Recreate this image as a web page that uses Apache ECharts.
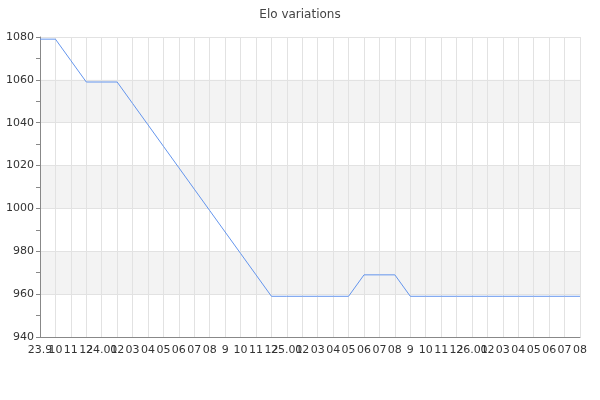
<!DOCTYPE html>
<html>
<head>
<meta charset="utf-8">
<title>Elo variations</title>
<script src="https://cdn.jsdelivr.net/npm/echarts@6/dist/echarts.min.js"></script>
<style>
    html, body { margin: 0; padding: 0; background: #fff; }
    #container { width: 600px; height: 400px; }
</style>
</head>
<body>
<div id="container"></div>
<script>
"use strict";

// month labels, as printed under the axis
const months = [
    '23.9', '10', '11', '12',
    '24.01', '02', '03', '04', '05', '06', '07', '08', '9', '10', '11', '12',
    '25.01', '02', '03', '04', '05', '06', '07', '08', '9', '10', '11', '12',
    '26.01', '02', '03', '04', '05', '06', '07', '08'
];

// elo at each month
const elo = [
    1079, 1079, 1069, 1059,
    1059, 1059, 1049, 1039, 1029, 1019, 1009, 999, 989, 979, 969, 959,
    959, 959, 959, 959, 959, 969, 969, 969, 959, 959, 959, 959,
    959, 959, 959, 959, 959, 959, 959, 959
];

const yTicks = { min: 940, max: 1080, interval: 20 };

let myChart = echarts.init(document.getElementById('container'));

let option = {
    animation: false,
    textStyle: { fontFamily: 'DejaVu Sans' },
    title: {
        text: 'Elo variations',
        left: 'center',
        top: 4,
        textStyle: {
            fontSize: 12,
            fontWeight: 'normal',
            color: '#444'
        }
    },
    grid: {
        left: 40,
        right: 20,
        top: 37,
        bottom: 63
    },
    xAxis: {
        type: 'category',
        data: months,
        boundaryGap: false,
        axisLine: { lineStyle: { color: '#888' } },
        axisTick: { show: false },
        axisLabel: {
            interval: 0,
            color: '#333',
            fontSize: 11,
            margin: 8
        },
        splitLine: {
            show: true,
            interval: 0,
            lineStyle: { color: '#e2e2e2' }
        }
    },
    yAxis: {
        type: 'value',
        min: yTicks.min,
        max: yTicks.max,
        interval: yTicks.interval,
        axisLine: { show: true, lineStyle: { color: '#888' } },
        axisTick: { show: true, length: 4, lineStyle: { color: '#888' } },
        minorTick: { show: true, splitNumber: 2, length: 4, lineStyle: { color: '#888' } },
        axisLabel: {
            color: '#333',
            fontSize: 11,
            margin: 6,
            formatter: function (v) { return String(v); }
        },
        splitLine: { lineStyle: { color: '#e2e2e2' } },
        splitArea: {
            show: true,
            areaStyle: { color: ['rgba(255,255,255,0)', '#f3f3f3'] }
        }
    },
    series: [{
        type: 'line',
        data: elo,
        showSymbol: false,
        symbol: 'none',
        lineStyle: { color: '#6495ed', width: 1 },
        itemStyle: { color: '#6495ed' }
    }]
};

myChart.setOption(option);

window.addEventListener('resize', function () {
    myChart.resize();
});
</script>
</body>
</html>
